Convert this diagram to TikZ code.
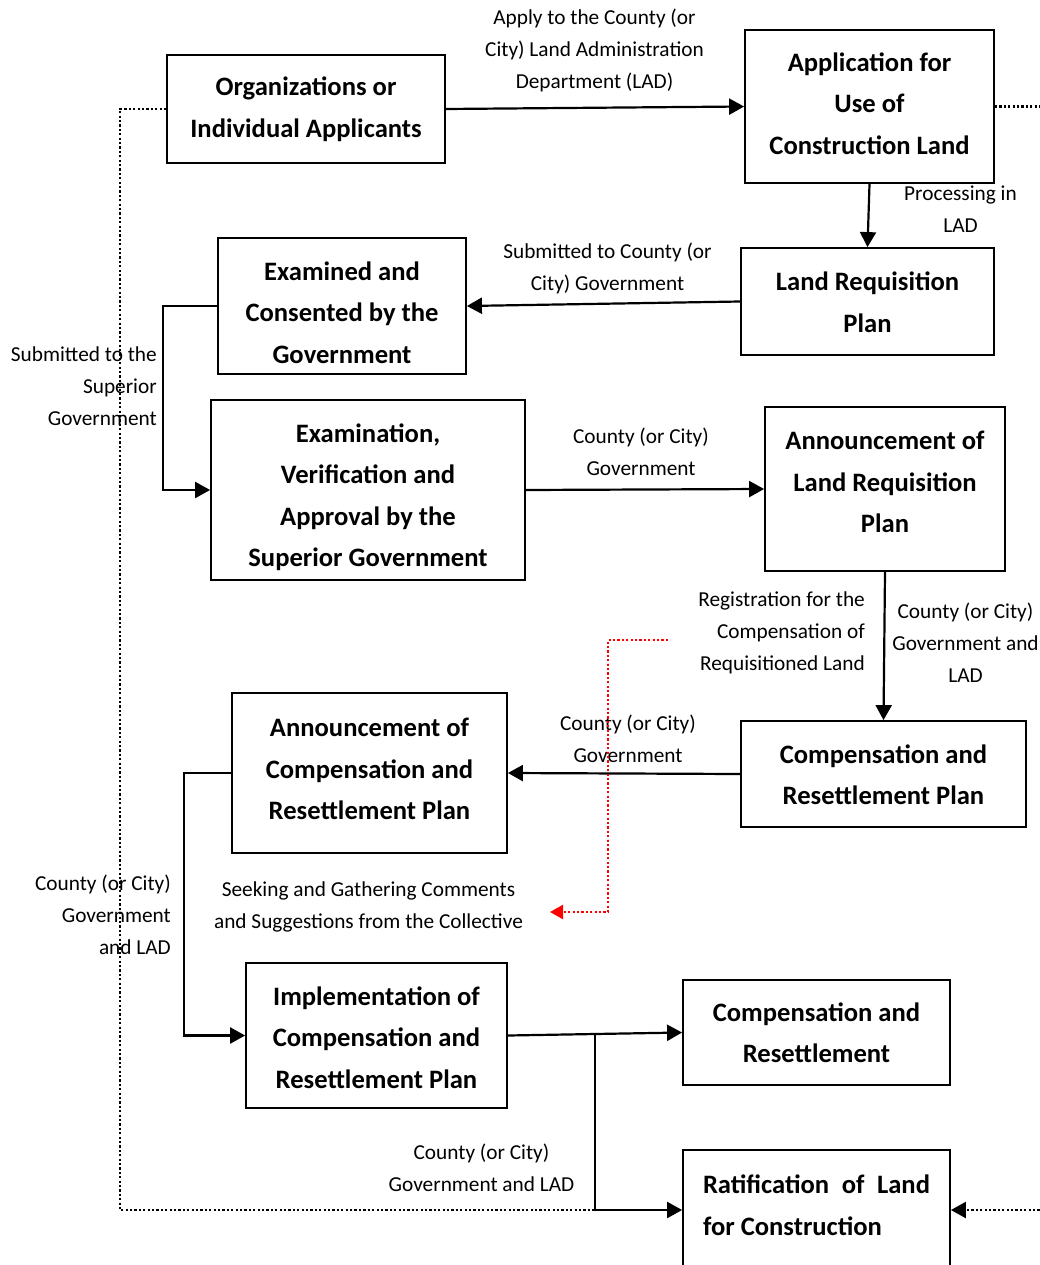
\documentclass[tikz,border=0pt]{standalone}
\usepackage{fontspec}
\setmainfont{Carlito}
\usetikzlibrary{arrows.meta}
\begin{document}
\begin{tikzpicture}[x=1pt,y=-1pt,
  frame/.style={draw, line width=1.8pt, inner sep=0pt},
  boxtext/.style={inner sep=0pt, align=center,
    font=\fontsize{26.6}{41.5}\selectfont\bfseries},
  lbl/.style={inner sep=0pt, font=\fontsize{21.3}{32}\selectfont},
  tip/.style={-{Triangle[length=15pt,width=16pt]}},
  flow/.style={line width=2.2pt, tip},
  dots/.style={line width=2.2pt, dash pattern=on 2.2pt off 2.2pt},
  reddots/.style={dots, red, -{Triangle[length=13pt,width=14pt]}},
]
\useasboundingbox (0,0) rectangle (1040,1265);
\clip (0,0) rectangle (1040,1265);

% process boxes: frame, then its text
\node[frame, minimum width=278pt, minimum height=108pt] (org) at (306,109) {};
\node[boxtext] (org-t) at (306,109) {Organizations or\\Individual Applicants};

\node[frame, minimum width=249pt, minimum height=153pt] (app) at (869.5,106.5) {};
\node[boxtext] (app-t) at (869.5,103.5) {Application for\\Use of\\Construction Land};

\node[frame, minimum width=253pt, minimum height=107pt] (lrp) at (867.5,301.5) {};
\node[boxtext] (lrp-t) at (867.5,302) {Land Requisition\\Plan};

\node[frame, minimum width=248pt, minimum height=136pt] (exam) at (342,306) {};
\node[boxtext] (exam-t) at (342,312.5) {Examined and\\Consented by the\\Government};

\node[frame, minimum width=314pt, minimum height=180pt] (verif) at (368,490) {};
\node[boxtext] (verif-t) at (368,497) {Examination,\\Verification and\\Approval by the\\Superior Government};

\node[frame, minimum width=240pt, minimum height=164pt] (annlrp) at (885,489) {};
\node[boxtext] (annlrp-t) at (885,482) {Announcement of\\Land Requisition\\Plan};

\node[frame, minimum width=285pt, minimum height=106pt] (crp) at (883.5,774) {};
\node[boxtext] (crp-t) at (883.5,774.5) {Compensation and\\Resettlement Plan};

\node[frame, minimum width=275pt, minimum height=160pt] (anncrp) at (369.5,773) {};
\node[boxtext] (anncrp-t) at (369.5,769) {Announcement of\\Compensation and\\Resettlement Plan};

\node[frame, minimum width=261pt, minimum height=145pt] (impl) at (376.5,1035.5) {};
\node[boxtext] (impl-t) at (376.5,1037.5) {Implementation of\\Compensation and\\Resettlement Plan};

\node[frame, minimum width=267pt, minimum height=105pt] (cr) at (816.5,1032.5) {};
\node[boxtext] (cr-t) at (816.5,1032.5) {Compensation and\\Resettlement};

\node[frame, minimum width=267pt, minimum height=120pt] (rat) at (816.5,1210) {};
\node[boxtext, align=left] (rat-t) at (816.5,1205)
  {\makebox[227pt][s]{Ratification of Land}\\for Construction};

% connector labels
\node[lbl, align=center] (l1) at (594.5,50)
  {Apply to the County (or\\City) Land Administration\\Department (LAD)};
\node[lbl, align=center] (l2) at (960.5,209) {Processing in\\LAD};
\node[lbl, align=center] (l3) at (607.5,268) {Submitted to County (or\\City) Government};
\node[lbl, align=right, anchor=east] (l4) at (157,386.5)
  {Submitted to the\\Superior\\Government};
\node[lbl, align=center] (l5) at (641,452) {County (or City)\\Government};
\node[lbl, align=right, anchor=east] (l6) at (865,633)
  {Registration for the\\Compensation of\\Requisitioned Land};
\node[lbl, align=center] (l7) at (965.5,643) {County (or City)\\Government and\\LAD};
\node[lbl, align=center] (l8) at (628,739) {County (or City)\\Government};
\node[lbl, align=right, anchor=east] (l9) at (171,915)
  {County (or City)\\Government\\and LAD};
\node[lbl, align=center] (seek) at (368.5,907)
  {Seeking and Gathering Comments\\and Suggestions from the Collective};
\node[lbl, align=center] (l10) at (481.5,1168) {County (or City)\\Government and LAD};

% helper points
\coordinate (split) at (595,1034);
\coordinate (leftrail) at (120,109);
\coordinate (offright) at (1044,0);
\coordinate (redstart) at (668,640);
\coordinate (redturn) at (608,912);
\coordinate (redend) at (550,912);

% main flow
\draw[flow] (org.east) -- (app.west);
\draw[flow] (app.south) -- (lrp.north);
\draw[flow] (lrp.west) -- (exam.east);
\draw[flow] (exam.west) -- ++(-54,0) |- (verif.west);
\draw[flow] (verif.east) -- (annlrp.west);
\draw[flow] (annlrp.south) -- (crp.north);
\draw[flow] (crp.west) -- (anncrp.east);
\draw[flow] (anncrp.west) -- ++(-47,0) |- (impl.west);
\draw[flow] (impl.east) -- (cr.west);
\draw[flow] (split) |- (rat.west);

% dotted feedback lines
\draw[dots] (org.west) -- (leftrail) |- (split |- rat.west);
\draw[dots] (app.east) -- (app.east -| offright);
\draw[dots, tip] (rat.east -| offright) -- (rat.east);
\draw[reddots] (redstart) -| (redturn) -- (redend);
\end{tikzpicture}
\end{document}
